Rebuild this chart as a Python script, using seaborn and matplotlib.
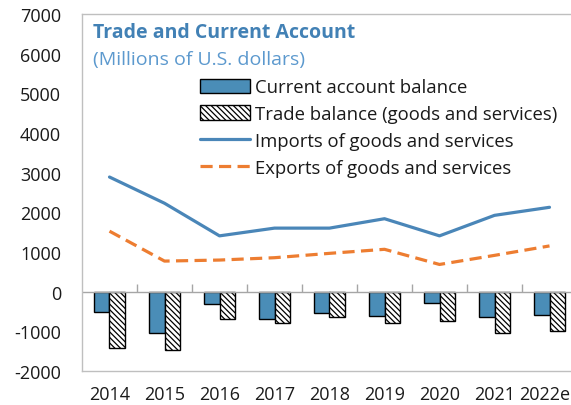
import numpy as np
import pandas as pd
import matplotlib
matplotlib.use("Agg")
import matplotlib.pyplot as plt
import matplotlib.transforms as mtransforms
import seaborn as sns
from matplotlib.patches import Patch
from matplotlib.lines import Line2D

years = ["2014", "2015", "2016", "2017", "2018", "2019", "2020", "2021", "2022e"]
current_account = [-508, -1034, -322, -695, -534, -602, -297, -627, -576]
trade_balance = [-1415, -1483, -678, -788, -644, -788, -746, -1042, -992]
imports = [2890, 2229, 1407, 1602, 1602, 1839, 1407, 1924, 2127]
exports = [1525, 771, 797, 856, 966, 1068, 686, 915, 1153]

lab_ca = "Current account balance"
lab_tb = "Trade balance (goods and services)"
lab_im = "Imports of goods and services"
lab_ex = "Exports of goods and services"

sns.set_theme(style="white")
plt.rcParams["font.family"] = ["Open Sans", "DejaVu Sans"]
plt.rcParams["hatch.linewidth"] = 0.9

BAR_BLUE = "#4A8DB7"
LINE_BLUE = "#4A86B8"
ORANGE = "#ED7D31"
GRID = "#BFBFBF"
TXT = "#1A1A1A"
HATCH = "\\" * 6
LW = 2.3
DASH = (0, (3.8, 2.0))

fig = plt.figure(figsize=(5.71, 4.06), dpi=100)
ax = fig.add_axes([82 / 571, 34 / 406, 495 / 571, 357 / 406])

bars = pd.DataFrame({
    "year": years * 2,
    "value": current_account + trade_balance,
    "series": [lab_ca] * len(years) + [lab_tb] * len(years),
})
sns.barplot(data=bars, x="year", y="value", hue="series", order=years,
            hue_order=[lab_ca, lab_tb], palette=[BAR_BLUE, "white"],
            width=0.58, gap=0, edgecolor="black", linewidth=1.0,
            legend=False, ax=ax, saturation=1)
for cont in ax.containers[1:2]:
    for p in cont:
        p.set_hatch(HATCH)
        p.set_facecolor("white")

pos = np.arange(len(years))
lines = pd.DataFrame({"x": pos, "imp": imports, "exp": exports})
sns.lineplot(data=lines, x="x", y="imp", color=LINE_BLUE, lw=LW, ax=ax)
sns.lineplot(data=lines, x="x", y="exp", color=ORANGE, lw=LW, ax=ax,
             linestyle=DASH)

ax.set_xlim(-0.5, len(years) - 0.5)
ax.set_ylim(-2000, 7000)
ax.set_yticks(np.arange(-2000, 7001, 1000))
ax.set_yticklabels([str(v) for v in range(-2000, 7001, 1000)], fontsize=13, color=TXT)
ax.set_xticks(pos)
ax.set_xticklabels(years, fontsize=13, color=TXT)
ax.set_xlabel("")
ax.set_ylabel("")
ax.tick_params(axis="y", direction="in", length=4, color=GRID, pad=15)
ax.tick_params(axis="x", length=0, pad=10)
for s in ax.spines.values():
    s.set_color(GRID)
    s.set_linewidth(1.0)

# keep the last category label inside the picture
last = ax.get_xticklabels()[-1]
last.set_transform(last.get_transform() +
                   mtransforms.ScaledTranslation(-5 / 100, 0, fig.dpi_scale_trans))

ax.axhline(0, color="#A6A6A6", lw=1.0, zorder=1.5)
sec = ax.secondary_xaxis(2 / 9)
sec.set_xticks(pos[:-1] + 0.5)
sec.set_xticklabels([])
sec.tick_params(direction="in", length=6, color="#A6A6A6", width=1)
sec.spines["bottom"].set_visible(False)

fig.text(93 / 571, 1 - 33 / 406, "Trade and Current Account", fontsize=14,
         fontweight="bold", color="#4281B5", va="center", ha="left")
fig.text(93 / 571, 1 - 60 / 406, "(Millions of U.S. dollars)", fontsize=14,
         color="#5C99CE", va="center", ha="left")

handles = [
    Patch(facecolor=BAR_BLUE, edgecolor="black", linewidth=1.0),
    Patch(facecolor="white", edgecolor="black", hatch=HATCH, linewidth=1.0),
    Line2D([], [], color=LINE_BLUE, lw=LW),
    Line2D([], [], color=ORANGE, lw=LW, linestyle=DASH),
]
fig.legend(handles, [lab_ca, lab_tb, lab_im, lab_ex], loc="upper left",
           bbox_to_anchor=(200 / 571, 1 - 79 / 406), bbox_transform=fig.transFigure,
           frameon=False, fontsize=13.3, handlelength=2.7, handleheight=0.8,
           handletextpad=0.3, borderpad=0, borderaxespad=0, labelspacing=0.48,
           labelcolor=TXT)

fig.savefig("out.png", dpi=100)
